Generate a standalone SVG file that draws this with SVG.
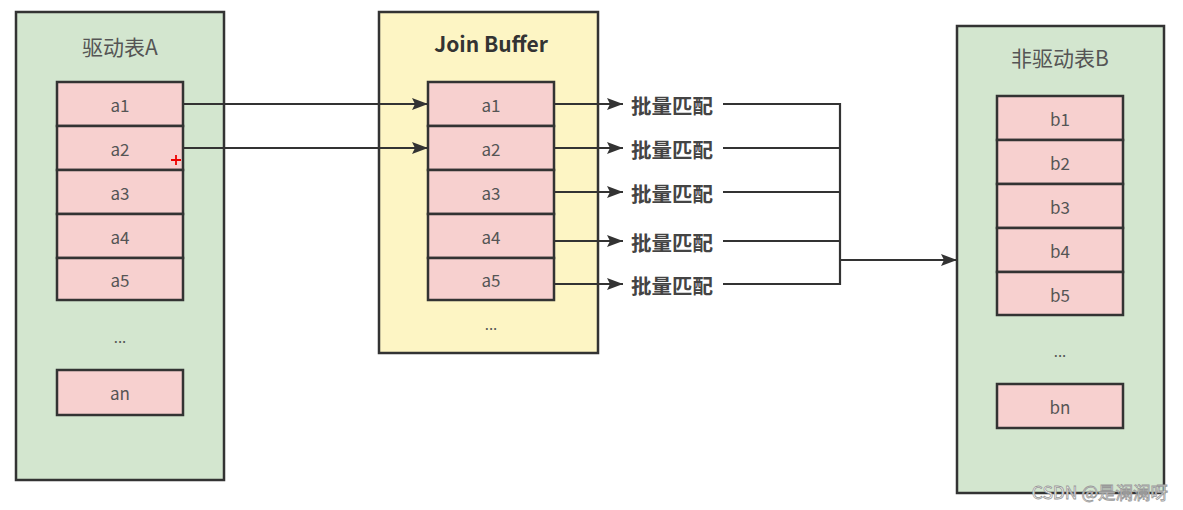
<svg xmlns="http://www.w3.org/2000/svg" width="1183" height="510" viewBox="0 0 1183 510">
<defs>
<marker id="ah" viewBox="0 0 16 12" refX="16" refY="6" markerWidth="16" markerHeight="12" markerUnits="userSpaceOnUse" orient="auto">
<path d="M0,0 L16,6 L0,12 L3,6 Z" fill="#333"/>
</marker>
<style>
.grp{fill:#d3e6cf;stroke:#333;stroke-width:2.5}
.buf{fill:#fdf5c4;stroke:#333;stroke-width:2.5}
.cell{fill:#f7d0cf;stroke:#333;stroke-width:2.5}
.t{font-family:"Noto Sans CJK SC","Open Sans",sans-serif;font-size:17px;fill:#555;text-anchor:middle;dominant-baseline:central}
.title{font-family:"Noto Sans CJK SC","Open Sans",sans-serif;font-size:21px;fill:#555;text-anchor:middle;dominant-baseline:central}
.bt{font-family:"Noto Sans CJK SC","Open Sans",sans-serif;font-size:21px;font-weight:bold;fill:#333;text-anchor:middle;dominant-baseline:central}
.lbl{font-family:"Noto Sans CJK SC",sans-serif;font-size:20.5px;font-weight:bold;fill:#444;dominant-baseline:central}
.ln{fill:none;stroke:#333;stroke-width:2.2}
.dots{font-family:"Noto Sans CJK SC",sans-serif;font-size:15px;fill:#555;text-anchor:middle}
</style>
</defs>
<rect width="1183" height="510" fill="#fff"/>

<g id="tableA">
<rect class="grp" x="16" y="12" width="208" height="468"/>
<text class="title" x="120" y="46">驱动表A</text>
<rect class="cell" x="57" y="82" width="126" height="44"/>
<text class="t" x="120" y="104">a1</text>
<rect class="cell" x="57" y="126" width="126" height="44"/>
<text class="t" x="120" y="148">a2</text>
<rect class="cell" x="57" y="170" width="126" height="44"/>
<text class="t" x="120" y="192">a3</text>
<rect class="cell" x="57" y="214" width="126" height="44"/>
<text class="t" x="120" y="236">a4</text>
<rect class="cell" x="57" y="258" width="126" height="42"/>
<text class="t" x="120" y="279">a5</text>
<text class="dots" x="120" y="343">...</text>
<rect class="cell" x="57" y="370" width="126" height="45"/>
<text class="t" x="120" y="392">an</text>
</g>

<g id="joinBuffer">
<rect class="buf" x="379" y="12" width="219" height="341"/>
<text class="bt" x="491" y="43">Join Buffer</text>
<rect class="cell" x="428" y="82" width="126" height="44"/>
<text class="t" x="491" y="104">a1</text>
<rect class="cell" x="428" y="126" width="126" height="44"/>
<text class="t" x="491" y="148">a2</text>
<rect class="cell" x="428" y="170" width="126" height="44"/>
<text class="t" x="491" y="192">a3</text>
<rect class="cell" x="428" y="214" width="126" height="44"/>
<text class="t" x="491" y="236">a4</text>
<rect class="cell" x="428" y="258" width="126" height="42"/>
<text class="t" x="491" y="279">a5</text>
<text class="dots" x="491" y="330">...</text>
</g>

<g id="tableB">
<rect class="grp" x="957" y="26" width="207" height="467"/>
<text class="title" x="1060" y="57">非驱动表B</text>
<rect class="cell" x="997" y="96" width="126" height="44"/>
<text class="t" x="1060" y="118">b1</text>
<rect class="cell" x="997" y="140" width="126" height="44"/>
<text class="t" x="1060" y="162">b2</text>
<rect class="cell" x="997" y="184" width="126" height="44"/>
<text class="t" x="1060" y="206">b3</text>
<rect class="cell" x="997" y="228" width="126" height="44"/>
<text class="t" x="1060" y="250">b4</text>
<rect class="cell" x="997" y="272" width="126" height="43"/>
<text class="t" x="1060" y="294">b5</text>
<text class="dots" x="1060" y="357">...</text>
<rect class="cell" x="997" y="384" width="126" height="44"/>
<text class="t" x="1060" y="406">bn</text>
</g>

<g id="labels">
<text class="lbl" x="631" y="105">批量匹配</text>
<text class="lbl" x="631" y="149">批量匹配</text>
<text class="lbl" x="631" y="193">批量匹配</text>
<text class="lbl" x="631" y="242">批量匹配</text>
<text class="lbl" x="631" y="285">批量匹配</text>
</g>

<g id="connectors">
<line class="ln" x1="183" y1="104" x2="428" y2="104" marker-end="url(#ah)"/>
<line class="ln" x1="183" y1="148" x2="428" y2="148" marker-end="url(#ah)"/>
<line class="ln" x1="554" y1="104" x2="623" y2="104" marker-end="url(#ah)"/>
<line class="ln" x1="554" y1="148" x2="623" y2="148" marker-end="url(#ah)"/>
<line class="ln" x1="554" y1="192" x2="623" y2="192" marker-end="url(#ah)"/>
<line class="ln" x1="554" y1="241" x2="623" y2="241" marker-end="url(#ah)"/>
<line class="ln" x1="554" y1="284" x2="623" y2="284" marker-end="url(#ah)"/>
<path class="ln" d="M723,104 H840 M723,148 H840 M723,192 H840 M723,241 H840 M723,284 H840 M840,103 V285"/>
<line class="ln" x1="840" y1="260" x2="957" y2="260" marker-end="url(#ah)"/>
</g>

<path d="M171,160 H181 M176,155 V165" stroke="#e00" stroke-width="1.8"/>
<text x="1168" y="491" font-family="'Noto Sans CJK SC',sans-serif" font-size="17.5" fill="#fff" stroke="#999" stroke-width="0.8" text-anchor="end" dominant-baseline="central">CSDN @是澜澜呀</text>
</svg>
